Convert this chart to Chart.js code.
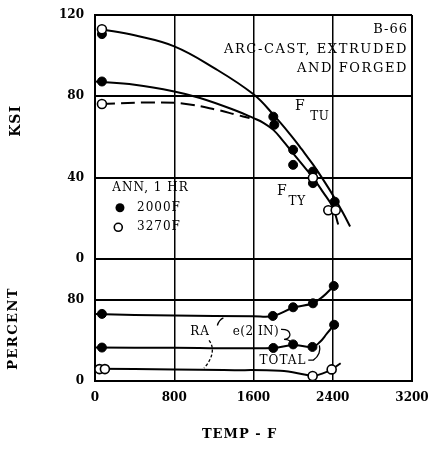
<!DOCTYPE html>
<html><head><meta charset="utf-8">
<script src="https://cdn.jsdelivr.net/npm/chart.js@4/dist/chart.umd.min.js"></script>
<style>html,body{margin:0;padding:0;background:#fff}#wrap{width:430px;height:449px}</style>
</head><body><div id="wrap"><canvas id="c" width="430" height="449"></canvas></div>
<script>
// ---- tick labels ----
const xTicks = [0, 800, 1600, 2400, 3200];
const ksiTicks = [0, 40, 80, 120];
const pctTicks = [0, 80];

// ---- top panel: fitted curves (temp F -> KSI) ----
const ftuTemp = [60, 400, 800, 1200, 1600, 1800, 2000, 2086, 2200, 2290, 2400, 2500, 2575];
const ftuKsi  = [113, 110, 104.6, 94, 81, 71, 59.5, 54, 46.5, 40, 31.5, 23, 16];
const ftyTemp = [0, 400, 800, 1060, 1400, 1600, 1700, 1800, 1900, 2000, 2100, 2200, 2300, 2400, 2455];
const ftyKsi  = [87.3, 85.7, 82.4, 79.2, 73.4, 69.3, 67, 63.5, 58, 52, 46, 40, 33, 25.5, 17];
const fty3270Temp = [60, 600, 900, 1230, 1430, 1560];
const fty3270Ksi  = [76.2, 77, 76.4, 73.4, 70.9, 69.3];

// ---- top panel: test points ----
const ann2000TempKsi = [70, 70, 1800, 1810, 2000, 2000, 2200, 2200, 2420];
const ann2000Ksi     = [110.6, 87.3, 70, 66, 53.7, 46.3, 43, 37.3, 28.2];
const ann3270TempKsi = [70, 70, 2200, 2355, 2430];
const ann3270Ksi     = [113, 76.2, 40, 24, 24];

// ---- bottom panel: fitted curves (temp F -> percent) ----
const ra2000Temp = [0, 400, 800, 1600, 1800, 2000, 2200, 2300, 2410];
const ra2000Pct  = [66, 65, 64.4, 63.8, 64, 72, 76.5, 83, 93.5];
const el2000Temp = [0, 800, 1800, 2000, 2195, 2270, 2340, 2414];
const el2000Pct  = [32.9, 32.6, 32.5, 35.5, 33.5, 38.3, 46.5, 55.3];
const ra3270Temp = [0, 800, 1300, 1870, 2140, 2200, 2300, 2390, 2480];
const ra3270Pct  = [12, 11.4, 10.7, 10, 6, 4.9, 7.5, 11.4, 17.5];

// ---- bottom panel: test points ----
const pct2000Temp = [70, 1795, 2000, 2200, 2410, 70, 1800, 2000, 2195, 2414];
const pct2000Val  = [66, 64, 72.5, 76.4, 93.5, 32.9, 32.5, 36, 33.5, 55.3];
const pct3270Temp = [45, 100, 2197, 2389];
const pct3270Val  = [11.7, 11.7, 4.9, 11.4];

const pts = (xs, ys) => xs.map((v, i) => ({x: v, y: ys[i]}));
const SERIF = "'DejaVu Serif', 'Liberation Serif', serif";

const curve = (data, yAxisID, dash) => ({
  type: 'line', data, yAxisID, showLine: true, borderColor: '#000', borderWidth: 2,
  borderDash: dash || [], pointRadius: 0, tension: 0.4, fill: false
});
const openPts = (data, yAxisID) => ({
  type: 'scatter', data, yAxisID, pointRadius: 4.5, pointBackgroundColor: '#fff',
  pointBorderColor: '#000', pointBorderWidth: 1.6, showLine: false
});
const fillPts = (data, yAxisID) => ({
  type: 'scatter', data, yAxisID, pointRadius: 4.5, pointBackgroundColor: '#000',
  pointBorderColor: '#000', pointBorderWidth: 1, showLine: false
});

const annot = {
  id: 'annot',
  afterDraw(chart) {
    const {ctx, scales: {x, y, y2}} = chart;
    const X = v => x.getPixelForValue(v);
    const Y = v => y.getPixelForValue(v);
    const Y2 = v => y2.getPixelForValue(v);
    ctx.save();
    ctx.fillStyle = '#000';
    ctx.strokeStyle = '#000';
    const txt = (s, px, py, font, align, ls) => {
      ctx.font = font; ctx.textAlign = align || 'left'; ctx.textBaseline = 'middle';
      try { ctx.letterSpacing = ls || '0px'; } catch (e) {}
      ctx.fillText(s, px, py);
    };
    // header
    txt('B-66', X(3160), Y(112.6), '13px ' + SERIF, 'right', '1px');
    txt('ARC-CAST, EXTRUDED', X(3160), Y(102.8), '13px ' + SERIF, 'right', '1.6px');
    txt('AND FORGED', X(3160), Y(93.5), '13px ' + SERIF, 'right', '1.6px');
    // curve labels
    txt('F', X(2069), Y(75.3), '14px ' + SERIF, 'center');
    txt('TU', X(2270), Y(69.9), '12px ' + SERIF, 'center', '0.5px');
    txt('F', X(1885), Y(33.1), '14px ' + SERIF, 'center');
    txt('TY', X(2040), Y(28.2), '12px ' + SERIF, 'center', '0.5px');
    // legend
    txt('ANN, 1 HR', X(175), Y(35), '12px ' + SERIF, 'left', '1px');
    ctx.beginPath(); ctx.arc(X(252), Y(25.2), 4.5, 0, Math.PI * 2); ctx.fill();
    txt('2000F', X(424), Y(25.2), '12px ' + SERIF, 'left', '1px');
    ctx.beginPath(); ctx.arc(X(235), Y(15.6), 4, 0, Math.PI * 2);
    ctx.fillStyle = '#fff'; ctx.fill(); ctx.lineWidth = 1.6; ctx.stroke(); ctx.fillStyle = '#000';
    txt('3270F', X(424), Y(15.6), '12px ' + SERIF, 'left', '1px');
    // bottom labels
    txt('RA', X(1060), Y2(48), '12px ' + SERIF, 'center', '1px');
    txt('e(2 IN)', X(1625), Y2(48), '12px ' + SERIF, 'center', '0.5px');
    txt('TOTAL', X(1898), Y2(19.8), '12px ' + SERIF, 'center', '1px');
    // leaders
    ctx.lineWidth = 1.3;
    ctx.setLineDash([3, 2]);
    ctx.beginPath();
    ctx.moveTo(X(1151), Y2(40));
    ctx.bezierCurveTo(X(1210), Y2(33), X(1190), Y2(22), X(1100), Y2(12.7));
    ctx.stroke();
    ctx.setLineDash([]);
    ctx.beginPath(); ctx.moveTo(X(1235), Y2(54.6)); ctx.quadraticCurveTo(X(1250), Y2(60), X(1296), Y2(62.1)); ctx.stroke();
    ctx.beginPath();
    ctx.moveTo(X(1878), Y2(50.7));
    ctx.bezierCurveTo(X(1995), Y2(51), X(1990), Y2(41), X(1908), Y2(41));
    ctx.quadraticCurveTo(X(1985), Y2(41), X(1979), Y2(35.1));
    ctx.stroke();
    ctx.beginPath();
    ctx.moveTo(X(2153), Y2(20.5));
    ctx.lineTo(X(2204), Y2(20.5));
    ctx.bezierCurveTo(X(2260), Y2(24), X(2280), Y2(30), X(2265), Y2(35.1));
    ctx.stroke();
    // axis titles
    ctx.save();
    ctx.translate(16, Y(67.9)); ctx.rotate(-Math.PI / 2);
    txt('KSI', 0, 0, 'bold 14px ' + SERIF, 'center', '1px');
    ctx.restore();
    ctx.save();
    ctx.translate(14, Y2(51.7)); ctx.rotate(-Math.PI / 2);
    txt('PERCENT', 0, 0, 'bold 13px ' + SERIF, 'center', '1.5px');
    ctx.restore();
    txt('TEMP - F', X(1460), 435, 'bold 13px ' + SERIF, 'center', '1px');
    ctx.restore();
  }
};

const edgeW = (vals) => (c) => (c.tick && vals.includes(c.tick.value)) ? 2 : 1.5;
const plain = v => String(v);
const noPadV = s => { s.width = 95; s.paddingTop = 0; s.paddingBottom = 0; };

new Chart(document.getElementById('c'), {
  type: 'scatter',
  data: {
    datasets: [
      openPts(pts(ann3270TempKsi, ann3270Ksi), 'y'),
      fillPts(pts(ann2000TempKsi, ann2000Ksi), 'y'),
      openPts(pts(pct3270Temp, pct3270Val), 'y2'),
      fillPts(pts(pct2000Temp, pct2000Val), 'y2'),
      curve(pts(ftuTemp, ftuKsi), 'y'),
      curve(pts(ftyTemp, ftyKsi), 'y'),
      curve(pts(fty3270Temp, fty3270Ksi), 'y', [14, 6]),
      curve(pts(ra2000Temp, ra2000Pct), 'y2'),
      curve(pts(el2000Temp, el2000Pct), 'y2'),
      curve(pts(ra3270Temp, ra3270Pct), 'y2')
    ]
  },
  options: {
    responsive: false, animation: false, devicePixelRatio: 1,
    layout: {padding: {top: 15, right: 18, bottom: 0, left: 0}},
    plugins: {legend: {display: false}, tooltip: {enabled: false}},
    scales: {
      x: {
        type: 'linear', min: 0, max: 3200,
        afterBuildTicks: s => { s.ticks = xTicks.map(v => ({value: v})); },
        afterFit: s => { s.height = 68; s.paddingLeft = 0; s.paddingRight = 0; },
        ticks: {color: '#000', font: {family: SERIF, size: 12, weight: 'bold'}, padding: 10, maxRotation: 0, callback: plain},
        grid: {color: '#000', lineWidth: edgeW([0, 3200]), drawTicks: false},
        border: {display: true, color: '#000', width: 2}
      },
      y2: {
        type: 'linear', min: 0, max: 120, position: 'left', stack: 'panels', stackWeight: 1,
        afterBuildTicks: s => { s.ticks = pctTicks.map(v => ({value: v})); },
        afterFit: noPadV,
        ticks: {color: '#000', font: {family: SERIF, size: 12, weight: 'bold'}, padding: 11, callback: plain},
        grid: {color: '#000', lineWidth: 2, drawTicks: false},
        border: {display: true, color: '#000', width: 2}
      },
      y: {
        type: 'linear', min: 0, max: 120, position: 'left', stack: 'panels', stackWeight: 2,
        afterBuildTicks: s => { s.ticks = ksiTicks.map(v => ({value: v})); },
        afterFit: noPadV,
        ticks: {color: '#000', font: {family: SERIF, size: 12, weight: 'bold'}, padding: 11, callback: plain},
        grid: {color: '#000', lineWidth: 2, drawTicks: false},
        border: {display: true, color: '#000', width: 2}
      }
    }
  },
  plugins: [annot]
});
</script>
</body></html>
